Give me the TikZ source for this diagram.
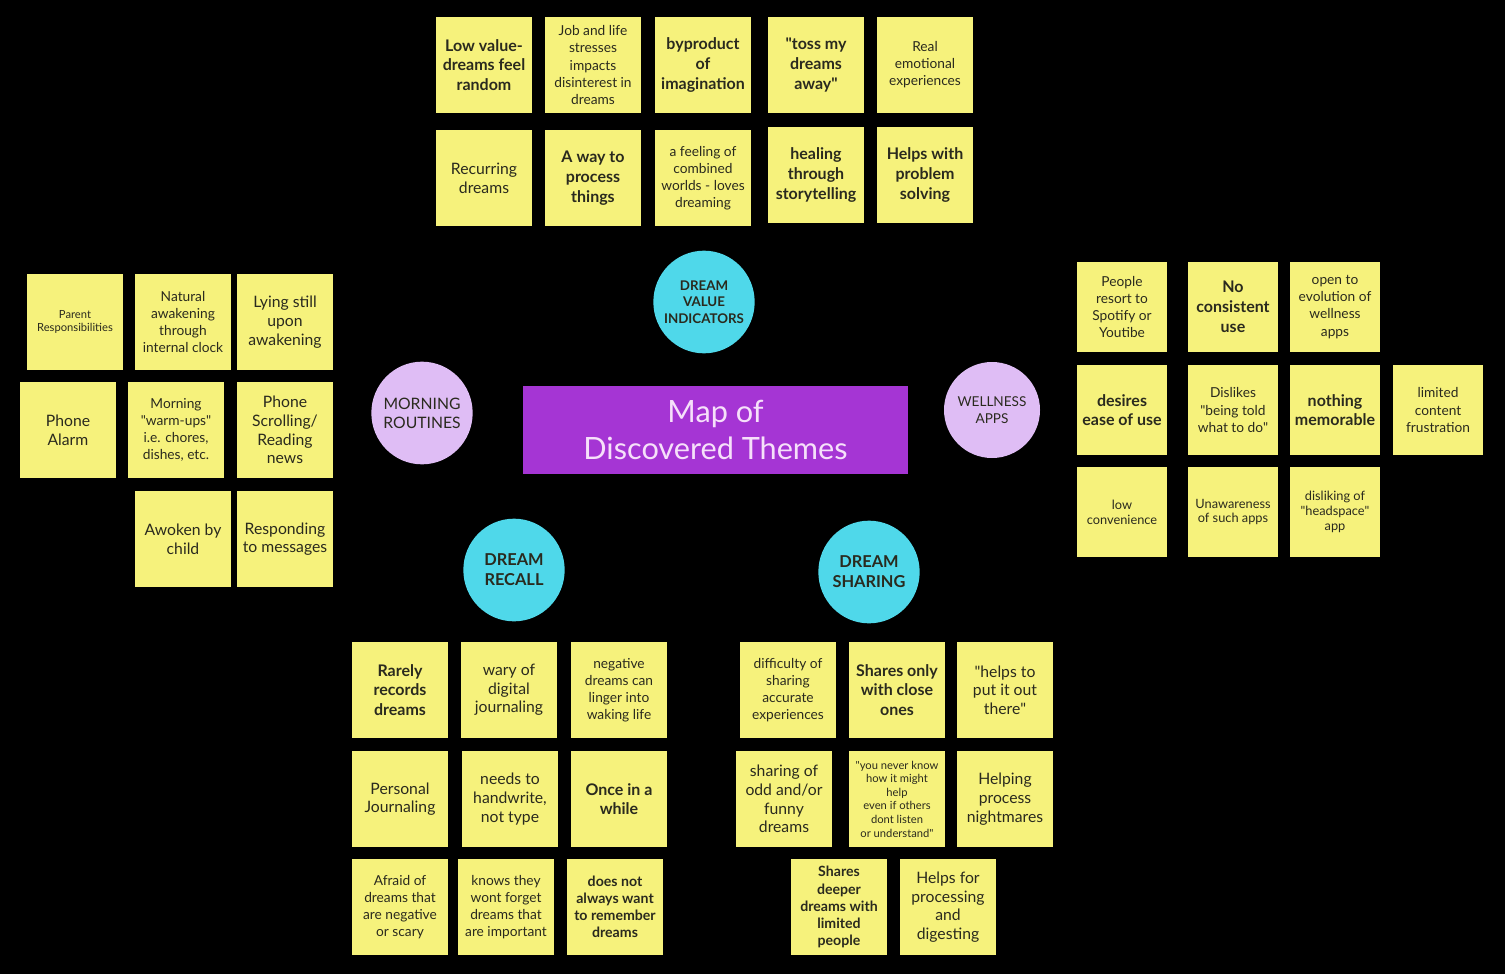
\documentclass[tikz,border=0pt]{standalone}
\usepackage{fontspec}
\setmainfont{Lato}
\usepackage{tikz}
\usetikzlibrary{shapes.geometric}
\definecolor{stick}{HTML}{F6F27C}
\definecolor{ink}{HTML}{2A2A1E}
\definecolor{teal}{HTML}{4FD8EA}
\definecolor{lilac}{HTML}{DFBDF5}
\definecolor{plum}{HTML}{A535D4}
\definecolor{pale}{HTML}{F6E0FA}
\newcommand\qt{\textquotedbl}
\tikzset{
  note/.style={rectangle,fill=stick,minimum width=72pt,minimum height=72pt,inner sep=1pt,align=center,text=ink},
  wnote/.style={note,minimum width=67pt,minimum height=67pt},
  nb/.style={font=\fontsize{12}{14.8}\selectfont\bfseries},
  nbs/.style={font=\fontsize{10.6}{12.8}\selectfont\bfseries},
  nr/.style={font=\fontsize{11.8}{14}\selectfont},
  ns/.style={font=\fontsize{10.3}{12.8}\selectfont},
  nt/.style={font=\fontsize{9.6}{11}\selectfont},
  nxs/.style={font=\fontsize{8.4}{10.2}\selectfont},
  hub/.style={ellipse,inner xsep=-14pt,inner ysep=-8pt,minimum width=76pt,minimum height=77pt,align=center,text=ink},
  tealhub/.style={hub,fill=teal,font=\fontsize{12.3}{15}\selectfont\bfseries},
  lilachub/.style={hub,fill=lilac,font=\fontsize{11.8}{14.2}\selectfont},
}
\begin{document}
\begin{tikzpicture}[x=0.75pt,y=-0.75pt]
\fill[black] (0,0) rectangle (1505,974);

% centre
\node[fill=plum,minimum width=289pt,minimum height=66pt,align=center,text=pale,
  font=\fontsize{23}{28}\selectfont] (map) at (715.5,430) {Map of\\Discovered Themes};

% theme hubs
\node[tealhub,font=\fontsize{10}{12.2}\selectfont\bfseries] (value) at (704,302) {DREAM\\VALUE\\INDICATORS};
\node[lilachub] (morning) at (422,413) {MORNING\\ROUTINES};
\node[lilachub,font=\fontsize{10.2}{12.5}\selectfont,minimum width=72pt,minimum height=72pt] (wellness) at (992,410) {WELLNESS\\APPS};
\node[tealhub] (recall) at (514,570) {DREAM\\RECALL};
\node[tealhub] (sharing) at (869,572) {DREAM\\SHARING};

% dream value indicators
\foreach \n/\x/\y/\s/\t in {
  1/484/65/nb/{Low value-\\dreams feel\\random},
  2/593/65/ns/{Job and life\\stresses\\impacts\\disinterest in\\dreams},
  3/703/65/nb/{byproduct\\of\\imagination},
  4/816/65/nb/{\qt toss my\\dreams\\away\qt},
  5/925/65/ns/{Real\\emotional\\experiences},
  6/484/178/nr/{Recurring\\dreams},
  7/593/178/nb/{A way to\\process\\things},
  8/703/178/ns/{a feeling of\\combined\\worlds - loves\\dreaming},
  9/816/175/nb/{healing\\through\\storytelling},
  10/925/175/nb/{Helps with\\problem\\solving}}{
  \node[note,\s] (v\n) at (\x,\y) {\t};}

% morning routines
\foreach \n/\x/\y/\s/\t in {
  1/75/322/nxs/{Parent\\Responsibilities},
  2/183/322/ns/{Natural\\awakening\\through\\internal clock},
  3/285/322/nr/{Lying still\\upon\\awakening},
  4/68/430/nr/{Phone\\Alarm},
  5/176/430/ns/{Morning\\\qt warm-ups\qt\\i.e. chores,\\dishes, etc.},
  6/285/430/nr/{Phone\\Scrolling/\\Reading\\news},
  7/183/539/nr/{Awoken by\\child},
  8/285/539/nr/{Responding\\to messages}}{
  \node[note,\s] (m\n) at (\x,\y) {\t};}

% wellness apps
\foreach \n/\x/\y/\s/\t in {
  1/1122/307/ns/{People\\resort to\\Spotify or\\Youtibe},
  2/1233/307/nb/{No\\consistent\\use},
  3/1335/307/ns/{open to\\evolution of\\wellness\\apps},
  4/1122/410/nb/{desires\\ease of use},
  5/1233/410/ns/{Dislikes\\\qt being told\\what to do\qt},
  6/1335/410/nb/{nothing\\memorable},
  7/1438/410/ns/{limited\\content\\frustration},
  8/1122/512/nt/{low\\convenience},
  9/1233/512/nt/{Unawareness\\of such apps},
  10/1335/512/nt/{disliking of\\\qt headspace\qt\\app}}{
  \node[wnote,\s] (w\n) at (\x,\y) {\t};}

% dream recall
\foreach \n/\x/\y/\s/\t in {
  1/400/690/nb/{Rarely\\records\\dreams},
  2/509/690/nr/{wary of\\digital\\journaling},
  3/619/690/ns/{negative\\dreams can\\linger into\\waking life},
  4/400/799/nr/{Personal\\Journaling},
  5/510/799/nr/{needs to\\handwrite,\\not type},
  6/619/799/nb/{Once in a\\while},
  7/400/907/ns/{Afraid of\\dreams that\\are negative\\or scary},
  8/506/907/ns/{knows they\\wont forget\\dreams that\\are important},
  9/615/907/nbs/{does not\\always want\\to remember\\dreams}}{
  \node[note,\s] (r\n) at (\x,\y) {\t};}

% dream sharing
\foreach \n/\x/\y/\s/\t in {
  1/788/690/ns/{difficulty of\\sharing\\accurate\\experiences},
  2/897/690/nb/{Shares only\\with close\\ones},
  3/1005/690/nr/{\qt helps to\\put it out\\there\qt},
  4/784/799/nr/{sharing of\\odd and/or\\funny\\dreams},
  5/897/799/nxs/{\qt you never know\\how it might\\help\\even if others\\dont listen\\or understand\qt},
  6/1005/799/nr/{Helping\\process\\nightmares},
  7/839/907/nbs/{Shares\\deeper\\dreams with\\limited\\people},
  8/948/907/nr/{Helps for\\processing\\and\\digesting}}{
  \node[note,\s] (s\n) at (\x,\y) {\t};}
\end{tikzpicture}
\end{document}
